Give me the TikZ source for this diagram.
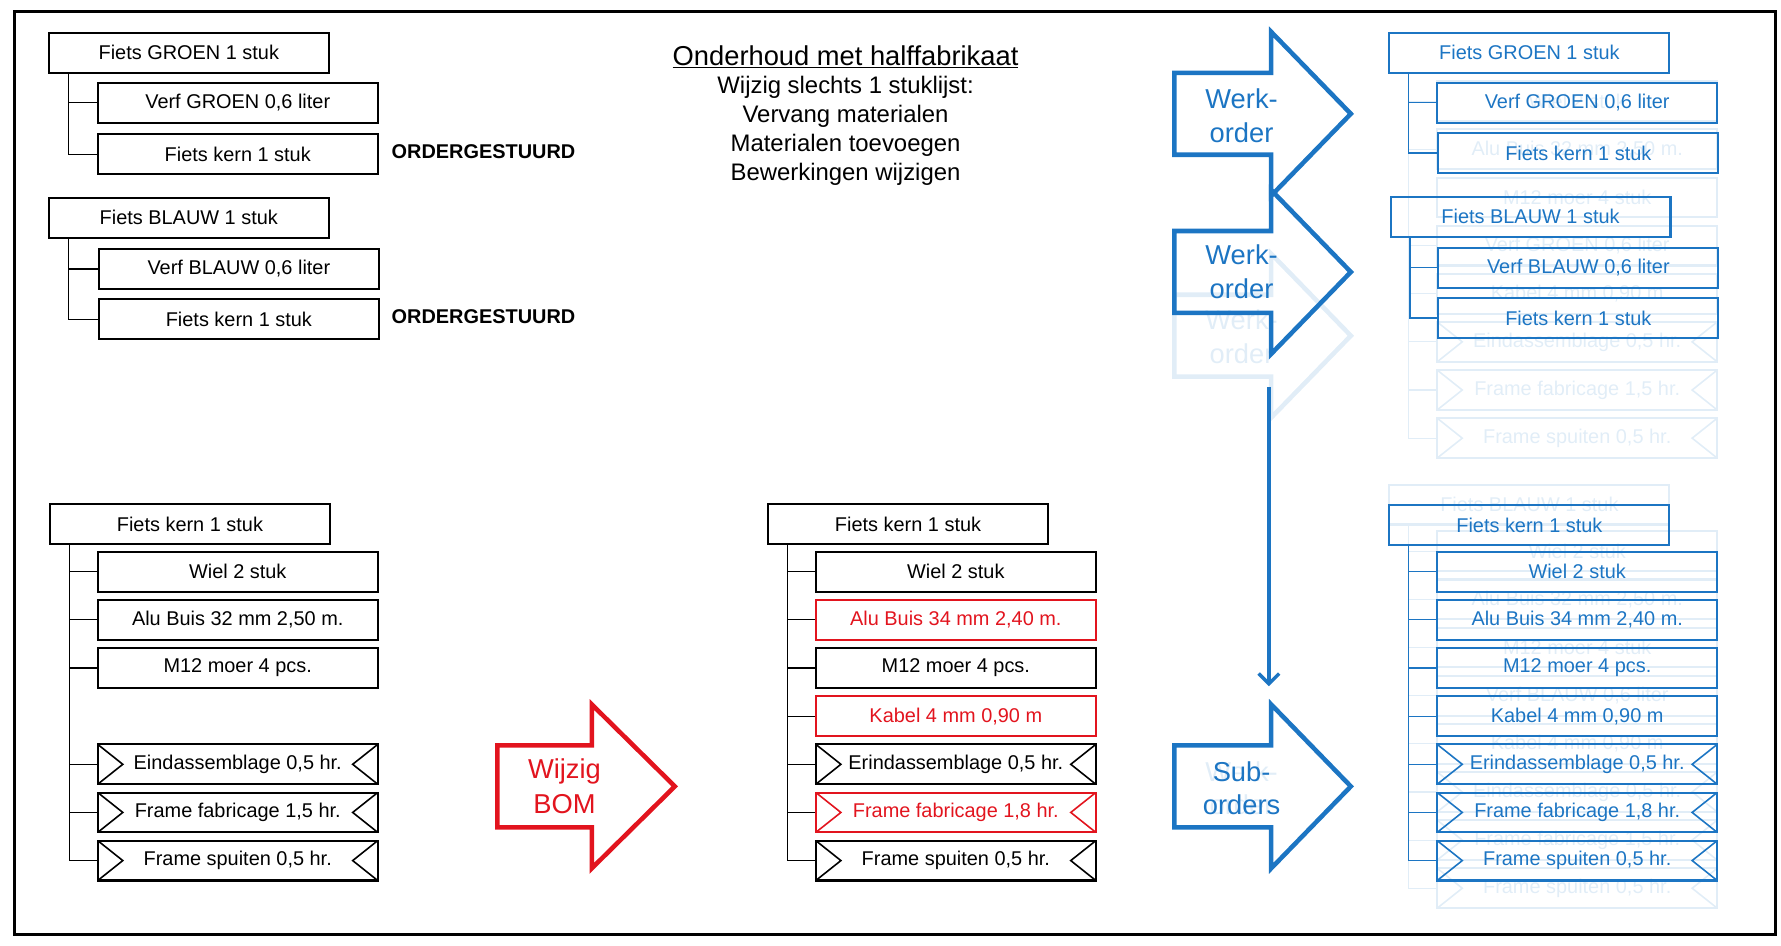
\documentclass[tikz,border=0pt]{standalone}
\usepackage{fontspec}
\setmainfont{Liberation Sans}
\usetikzlibrary{arrows.meta}
\definecolor{myred}{RGB}{226,20,30}
\definecolor{myblue}{RGB}{28,117,195}
\colorlet{ghost}{myblue!13!white}
\newcommand\bxfont{\fontsize{17.5}{21}\selectfont}
\newcommand\arfont{\fontsize{24}{29}\selectfont}
\newcommand\subfont{\fontsize{21}{25}\selectfont}
\newcommand\barrow[5]{%
  \draw[#1] (#2,{#5-36}) -- (#3,{#5-36}) -- (#3,{#5-72}) -- (#4,#5) -- (#3,{#5+72}) -- (#3,{#5+36}) -- (#2,{#5+36}) -- cycle;}
\tikzset{
  bx/.style={draw=#1, text=#1, line width=1.8pt, minimum width=246pt, minimum height=35pt, inner sep=0pt, anchor=north west, font=\bxfont},
  bx/.default=black,
  op/.style={bx=#1, path picture={\draw[#1, line width=1.4pt] (path picture bounding box.north west) -- ([xshift=22pt]path picture bounding box.west) -- (path picture bounding box.south west) (path picture bounding box.north east) -- ([xshift=-22pt]path picture bounding box.east) -- (path picture bounding box.south east);}},
  op/.default=black,
  tree/.style={draw=#1, line width=1pt},
  tree/.default=black,
  bigarrow/.style={draw=#1, line width=4pt, line join=miter},
  artext/.style={text=#1, font=\arfont, inner sep=0pt},
}
\begin{document}
\begin{tikzpicture}[x=1pt,y=-1pt]
\useasboundingbox (0,0) rectangle (1565,830.4);
\draw[line width=2.5pt] (13,10) rectangle (1560,821);

% ---------- ghosts (faint) ----------
\node[bx=ghost] (gp1) at (1220,28) {};
\node[bx=ghost] (g1) at (1262,70.5) {Wiel 2 stuk};
\node[bx=ghost] (g2) at (1262,112.8) {Alu Buis 32 mm 2,50 m.};
\node[bx=ghost] (g3) at (1262,155.1) {M12 moer 4 stuk};
\node[bx=ghost] (g4) at (1262,197.4) {Verf GROEN 0,6 liter};
\node[bx=ghost] (g5) at (1262,239.7) {Kabel 4 mm 0,90 m};
\node[op=ghost] (g6) at (1262,282) {Eindassemblage 0,5 hr.};
\node[op=ghost] (g7) at (1262,324.3) {Frame fabricage 1,5 hr.};
\node[op=ghost] (g8) at (1262,366.6) {Frame spuiten 0,5 hr.};
\foreach \n in {g1,g2,g3,g4,g5,g6,g7,g8}
  \draw[tree=ghost] ([xshift=18pt]gp1.south west) |- (\n.west);

\node[bx=ghost] (hp) at (1220,425) {Fiets BLAUW 1 stuk};
\node[bx=ghost] (h1) at (1262,466) {Wiel 2 stuk};
\node[bx=ghost] (h2) at (1262,508.3) {Alu Buis 32 mm 2,50 m.};
\node[bx=ghost] (h3) at (1262,550.6) {M12 moer 4 stuk};
\node[bx=ghost] (h4) at (1262,592.9) {Verf BLAUW 0,6 liter};
\node[bx=ghost] (h5) at (1262,635.2) {Kabel 4 mm 0,90 m};
\node[op=ghost] (h6) at (1262,677.5) {Eindassemblage 0,5 hr.};
\node[op=ghost] (h7) at (1262,719.8) {Frame fabricage 1,5 hr.};
\node[op=ghost] (h8) at (1262,762.1) {Frame spuiten 0,5 hr.};
\foreach \n in {h1,h2,h3,h4,h5,h6,h7,h8}
  \draw[tree=ghost] ([xshift=18pt]hp.south west) |- (\n.west);

\barrow{bigarrow=ghost}{1032}{1117}{1187}{295}
\node[artext=ghost] (gw1) at (1091,281) {Werk-};
\node[artext=ghost] (gw2) at (1091,311) {order};
\node[artext=ghost] (gw3) at (1091,678) {Werk-};
\node[artext=ghost] (gw4) at (1091,707) {order};

% ---------- title ----------
\node[font=\fontsize{24}{29}\selectfont, inner sep=0pt] (t0) at (743,50) {\underline{Onderhoud met halffabrikaat}};
\node[font=\subfont, inner sep=0pt] (t1) at (743,77) {Wijzig slechts 1 stuklijst:};
\node[font=\subfont, inner sep=0pt] (t2) at (743,102.5) {Vervang materialen};
\node[font=\subfont, inner sep=0pt] (t3) at (743,128) {Materialen toevoegen};
\node[font=\subfont, inner sep=0pt] (t4) at (743,153.5) {Bewerkingen wijzigen};

% ---------- top-left trees ----------
\node[bx] (a0) at (42,28) {Fiets GROEN 1 stuk};
\node[bx] (a1) at (85,72) {Verf GROEN 0,6 liter};
\node[bx] (a2) at (85,117) {Fiets kern 1 stuk};
\draw[tree] ([xshift=18pt]a0.south west) |- (a1.west);
\draw[tree] ([xshift=18pt]a0.south west) |- (a2.west);
\node[anchor=west, font=\bxfont\bfseries, inner sep=0pt] (o1) at (344,133.5) {ORDERGESTUURD};

\node[bx] (b0) at (42,173) {Fiets BLAUW 1 stuk};
\node[bx] (b1) at (86,218) {Verf BLAUW 0,6 liter};
\node[bx] (b2) at (86,262) {Fiets kern 1 stuk};
\draw[tree] ([xshift=18pt]b0.south west) |- (b1.west);
\draw[tree] ([xshift=18pt]b0.south west) |- (b2.west);
\node[anchor=west, font=\bxfont\bfseries, inner sep=0pt] (o2) at (344,278.5) {ORDERGESTUURD};

% ---------- bottom-left tree ----------
\node[bx] (c0) at (43,442) {Fiets kern 1 stuk};
\node[bx] (c1) at (85,484) {Wiel 2 stuk};
\node[bx] (c2) at (85,526.3) {Alu Buis 32 mm 2,50 m.};
\node[bx] (c3) at (85,568.6) {M12 moer 4 pcs.};
\node[op] (c5) at (85,653.2) {Eindassemblage 0,5 hr.};
\node[op] (c6) at (85,695.5) {Frame fabricage 1,5 hr.};
\node[op] (c7) at (85,737.8) {Frame spuiten 0,5 hr.};
\foreach \n in {c1,c2,c3,c5,c6,c7}
  \draw[tree] ([xshift=18pt]c0.south west) |- (\n.west);

% ---------- red arrow ----------
\barrow{bigarrow=myred}{437}{520}{593}{691}
\node[artext=myred] (w1) at (496,678) {Wijzig};
\node[artext=myred] (w2) at (496,707) {BOM};

% ---------- middle tree ----------
\node[bx] (m0) at (674,442) {Fiets kern 1 stuk};
\node[bx] (m1) at (716,484) {Wiel 2 stuk};
\node[bx=myred] (m2) at (716,526.3) {Alu Buis 34 mm 2,40 m.};
\node[bx] (m3) at (716,568.6) {M12 moer 4 pcs.};
\node[bx=myred] (m4) at (716,610.9) {Kabel 4 mm 0,90 m};
\node[op] (m5) at (716,653.2) {Erindassemblage 0,5 hr.};
\node[op=myred] (m6) at (716,695.5) {Frame fabricage 1,8 hr.};
\node[op] (m7) at (716,737.8) {Frame spuiten 0,5 hr.};
\foreach \n in {m1,m2,m3,m4,m5,m6,m7}
  \draw[tree] ([xshift=18pt]m0.south west) |- (\n.west);

% ---------- blue arrows ----------
\barrow{bigarrow=myblue}{1032}{1117}{1187}{100}
\node[artext=myblue] (k1) at (1091,87) {Werk-};
\node[artext=myblue] (k2) at (1091,117) {order};
\barrow{bigarrow=myblue}{1032}{1117}{1187}{239}
\node[artext=myblue] (k3) at (1091,224) {Werk-};
\node[artext=myblue] (k4) at (1091,254) {order};
\barrow{bigarrow=myblue}{1032}{1117}{1187}{691}
\node[artext=myblue] (k5) at (1091,678) {Sub-};
\node[artext=myblue] (k6) at (1091,707) {orders};
\coordinate (va) at (1115,340);
\coordinate (vb) at (1115,603);
\draw[myblue, line width=3pt, -{Straight Barb[length=9pt,width=18pt,line width=3pt]}] (va) -- (vb);

% ---------- right trees ----------
\node[bx=myblue] (r0) at (1220,28) {Fiets GROEN 1 stuk};
\node[bx=myblue] (r1) at (1262,72) {Verf GROEN 0,6 liter};
\node[bx=myblue] (r2) at (1263,116) {Fiets kern 1 stuk};
\draw[tree=myblue] ([xshift=18pt]r0.south west) |- (r1.west);
\draw[tree=myblue] ([xshift=18pt]r0.south west) |- (r2.west);

\node[bx=myblue] (s0) at (1221,172) {Fiets BLAUW 1 stuk};
\node[bx=myblue] (s1) at (1263,217) {Verf BLAUW 0,6 liter};
\node[bx=myblue] (s2) at (1263,261) {Fiets kern 1 stuk};
\draw[tree=myblue] ([xshift=18pt]s0.south west) |- (s1.west);
\draw[tree=myblue] ([xshift=18pt]s0.south west) |- (s2.west);

\node[bx=myblue] (u0) at (1220,443) {Fiets kern 1 stuk};
\node[bx=myblue] (u1) at (1262,484) {Wiel 2 stuk};
\node[bx=myblue] (u2) at (1262,526.3) {Alu Buis 34 mm 2,40 m.};
\node[bx=myblue] (u3) at (1262,568.6) {M12 moer 4 pcs.};
\node[bx=myblue] (u4) at (1262,610.9) {Kabel 4 mm 0,90 m};
\node[op=myblue] (u5) at (1262,653.2) {Erindassemblage 0,5 hr.};
\node[op=myblue] (u6) at (1262,695.5) {Frame fabricage 1,8 hr.};
\node[op=myblue] (u7) at (1262,737.8) {Frame spuiten 0,5 hr.};
\foreach \n in {u1,u2,u3,u4,u5,u6,u7}
  \draw[tree=myblue] ([xshift=18pt]u0.south west) |- (\n.west);
\end{tikzpicture}
\end{document}
